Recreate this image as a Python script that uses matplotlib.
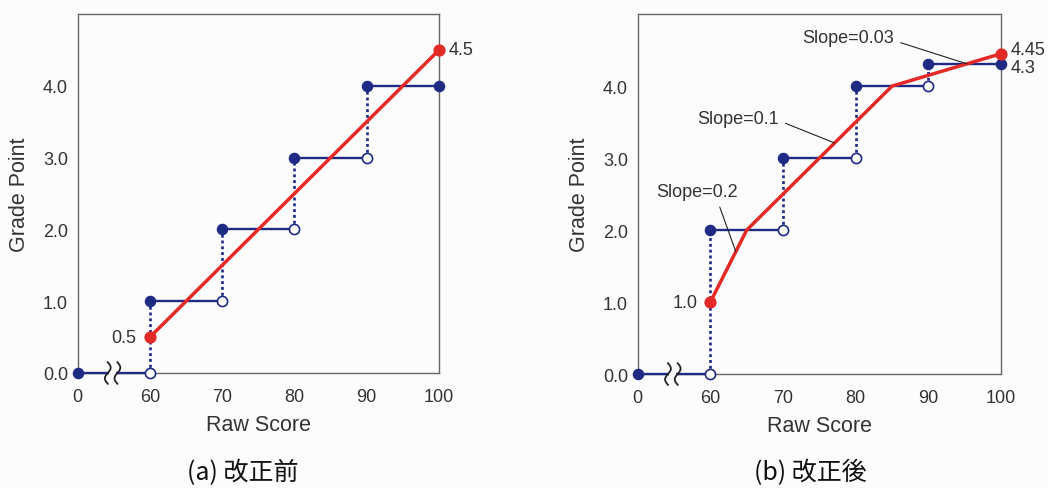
import numpy as np
import matplotlib
matplotlib.use("Agg")
import matplotlib.pyplot as plt

plt.rcParams['font.family'] = ['Liberation Sans', 'DejaVu Sans']

# ---- data ----
raw_ticks = [0, 60, 70, 80, 90, 100]
grade_ticks = [0.0, 1.0, 2.0, 3.0, 4.0]

step_start = [0, 60, 70, 80, 90]
step_end = [60, 70, 80, 90, 100]
end_closed = [False, False, False, False, True]

before_step = [0.0, 1.0, 2.0, 3.0, 4.0]
before_lin_x = [60, 100]
before_lin_y = [0.5, 4.5]

after_step = [0.0, 2.0, 3.0, 4.0, 4.3]
after_lin_x = [60, 65, 85, 100]
after_lin_y = [1.0, 2.0, 4.0, 4.45]

slope_labels = ["Slope=0.2", "Slope=0.1", "Slope=0.03"]
slope_points_x = [63.5, 77.1, 95.3]

captions = ["(a) 改正前", "(b) 改正後"]

BLUE = '#1f2a85'
RED = '#e42a26'
TXT = '#333333'
BG = '#fcfcfc'


def fwd(x):
    x = np.asarray(x, dtype=float)
    return np.where(x < 60, 50 + x / 6.0, x)


def inv(y):
    y = np.asarray(y, dtype=float)
    return np.where(y < 60, (y - 50) * 6.0, y)


fig = plt.figure(figsize=(10.48, 4.89), dpi=100, facecolor=BG)
ax1 = fig.add_axes([0.0741, 0.2352, 0.3448, 0.734])
ax2 = fig.add_axes([0.6085, 0.2331, 0.3467, 0.736])


def draw_panel(ax, steps, lin_x, lin_y):
    ax.set_facecolor(BG)
    ax.set_xscale('function', functions=(fwd, inv))
    ax.set_xlim(0, 100)
    ax.set_ylim(0, 5)
    # horizontal step segments
    for s, e, v, closed in zip(step_start, step_end, steps, end_closed):
        ax.plot([s, e], [v, v], color=BLUE, lw=1.7, zorder=3, solid_capstyle='butt', clip_on=False)
        ax.plot([s], [v], 'o', color=BLUE, ms=7.3, zorder=6, clip_on=False)
        if closed:
            ax.plot([e], [v], 'o', color=BLUE, ms=7.3, zorder=6, clip_on=False)
        else:
            ax.plot([e], [v], 'o', mfc='white', mec=BLUE, mew=1.2, ms=7.3, zorder=6, clip_on=False)
    # dotted verticals
    for i in range(1, len(steps)):
        ax.plot([step_start[i], step_start[i]], [steps[i - 1], steps[i]], color=BLUE,
                lw=1.9, ls=(0, (1.1, 1.1)), zorder=2)
    # linear (red) line
    ax.plot(lin_x, lin_y, color=RED, lw=2.5, zorder=5, solid_joinstyle='miter', clip_on=False)
    ax.plot([lin_x[0], lin_x[-1]], [lin_y[0], lin_y[-1]], 'o', color=RED, ms=7.8, zorder=7, clip_on=False)
    # break symbol on the 0-60 segment
    for xb in (25, 33):
        t = np.linspace(-1, 1, 60)
        px0 = float(fwd(xb))
        xs = inv(px0 + 0.4 * np.sin(t * np.pi))
        ys = 0.15 * t
        ax.plot(xs, ys, color='#222222', lw=1.3, zorder=8, clip_on=False)
    ax.fill_between(inv(np.linspace(float(fwd(25)) + 0.2, float(fwd(33)) - 0.2, 5)), -0.05, 0.05,
                    color=BG, zorder=4, lw=0, clip_on=False)
    ax.set_xticks(raw_ticks)
    ax.set_xticklabels([str(v) for v in raw_ticks])
    ax.set_yticks(grade_ticks)
    ax.set_yticklabels([f"{v:.1f}" for v in grade_ticks])
    ax.tick_params(length=0, labelsize=13, labelcolor=TXT, pad=7)
    ax.tick_params(axis='x', pad=11)
    for sp in ax.spines.values():
        sp.set_color('#666666')
        sp.set_linewidth(1.0)
    ax.set_xlabel("Raw Score", fontsize=15.5, color=TXT, labelpad=6)
    ax.set_ylabel("Grade Point", fontsize=15.5, color=TXT, labelpad=9)


draw_panel(ax1, before_step, before_lin_x, before_lin_y)
draw_panel(ax2, after_step, after_lin_x, after_lin_y)

# value labels
ax1.annotate(f"{before_lin_y[0]}", (before_lin_x[0], before_lin_y[0]), xytext=(-10, 0),
             textcoords='offset points', ha='right', va='center', fontsize=13, color=TXT)
ax1.annotate(f"{before_lin_y[-1]}", (before_lin_x[-1], before_lin_y[-1]), xytext=(7, 0),
             textcoords='offset points', ha='left', va='center', fontsize=13, color=TXT)
ax2.annotate(f"{after_lin_y[0]:.1f}", (after_lin_x[0], after_lin_y[0]), xytext=(-9, 0),
             textcoords='offset points', ha='right', va='center', fontsize=13, color=TXT)
ax2.annotate(f"{after_lin_y[-1]}", (after_lin_x[-1], after_lin_y[-1]), xytext=(7, 3),
             textcoords='offset points', ha='left', va='center', fontsize=13, color=TXT)
ax2.annotate(f"{after_step[-1]}", (step_end[-1], after_step[-1]), xytext=(7, -2),
             textcoords='offset points', ha='left', va='center', fontsize=13, color=TXT)

# slope annotations
slope_text_pos = [(0.163, 0.506), (0.276, 0.711), (0.579, 0.936)]
slope_relpos = [(0.75, 0.0), (1.0, 0.35), (1.0, 0.3)]
for lab, sx, tp, rp in zip(slope_labels, slope_points_x, slope_text_pos, slope_relpos):
    sy = float(np.interp(sx, after_lin_x, after_lin_y))
    ax2.annotate(lab, xy=(sx, sy), xycoords='data', xytext=tp, textcoords='axes fraction',
                 ha='center', va='center', fontsize=13, color=TXT, zorder=9,
                 arrowprops=dict(arrowstyle='-', color='#222222', lw=0.8, relpos=rp,
                                 shrinkA=3, shrinkB=0))

# captions
for xc, cap in zip((0.232, 0.773), captions):
    fig.text(xc, 0.033, cap, ha='center', va='center', fontsize=18, color='#111111',
             family=['Noto Sans CJK JP', 'DejaVu Sans'])

fig.savefig("out.png", dpi=100, facecolor=BG)
